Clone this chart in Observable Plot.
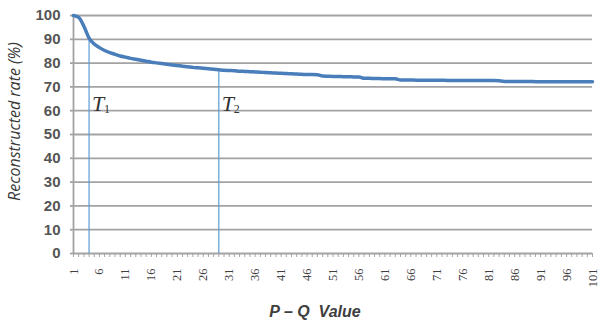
<!DOCTYPE html>
<html>
<head>
<meta charset="utf-8">
<script src="https://cdn.jsdelivr.net/npm/d3@7"></script>
<script src="https://cdn.jsdelivr.net/npm/@observablehq/plot@0.6"></script>
<style>
  html, body { margin: 0; padding: 0; background: #fff; }
  #chart svg { display: block; }
</style>
</head>
<body>
<div id="chart"></div>
<script>
// P - Q values (categories 1..101)
const pq = d3.range(1, 102);
// Reconstructed rate (%)
const rate = [
  100, 99.2, 95.5, 90.5, 88.0, 86.5, 85.3, 84.4, 83.7, 83.0,
  82.5, 82.0, 81.6, 81.2, 80.8, 80.4, 80.1, 79.8, 79.5, 79.2,
  79.0, 78.7, 78.5, 78.2, 78.0, 77.8, 77.6, 77.4, 77.2, 77.0,
  76.9, 76.8, 76.6, 76.5, 76.4, 76.3, 76.2, 76.0, 75.9, 75.8,
  75.7, 75.6, 75.5, 75.4, 75.3, 75.2, 75.2, 75.1, 74.6, 74.5,
  74.4, 74.4, 74.3, 74.3, 74.2, 74.2, 73.6, 73.6, 73.5, 73.5,
  73.4, 73.4, 73.4, 72.9, 72.9, 72.9, 72.8, 72.8, 72.8, 72.8,
  72.8, 72.8, 72.7, 72.7, 72.7, 72.7, 72.7, 72.7, 72.7, 72.7,
  72.7, 72.7, 72.6, 72.3, 72.3, 72.3, 72.3, 72.3, 72.3, 72.2,
  72.2, 72.2, 72.2, 72.2, 72.2, 72.2, 72.2, 72.2, 72.2, 72.2, 72.2
];
// Threshold markers
const tPos = [4, 29];
const tSub = ["1", "2"];
// Tick labels
const xTickLabels = d3.range(1, 102, 5);
const yTicks = d3.range(0, 101, 10);
const xTitle = "P \u2013 Q  Value";
const yTitle = "Reconstructed rate (%)";

const data = pq.map((p, i) => ({p, r: rate[i]}));
const tData = tPos.map((p, i) => ({p, r: rate[p - 1], sub: tSub[i]}));

const gridColor = "#a3a3a3";
const textColor = "#555555";
const serif = "Liberation Serif, Times New Roman, serif";

const chart = Plot.plot({
  width: 600,
  height: 324,
  marginLeft: 73,
  marginRight: 8,
  marginTop: 15,
  marginBottom: 71,
  style: {fontFamily: "Liberation Sans, Arial, sans-serif", background: "#fff"},
  x: {type: "linear", domain: [1, 101]},
  y: {domain: [0, 100]},
  marks: [
    Plot.ruleY(yTicks, {stroke: gridColor, strokeWidth: 1.8}),
    Plot.axisY({ticks: yTicks, tickSize: 3, tickPadding: 10, stroke: gridColor, strokeWidth: 1.8,
      fill: textColor, fontSize: 15, fontWeight: "bold", label: null, tickFormat: d => String(d)}),
    Plot.ruleX([1], {stroke: gridColor, strokeWidth: 1.8}),
    Plot.axisX({ticks: pq, tickSize: 4, tickFormat: () => "", stroke: gridColor, strokeWidth: 1, label: null}),
    Plot.axisX({ticks: xTickLabels, tickSize: 0, tickPadding: 15, tickRotate: -90,
      fill: "#404040", fontSize: 12.5, fontFamily: serif, label: null}),
    Plot.ruleX(tData, {x: "p", y1: 0, y2: "r", stroke: "#5b9bd5", strokeWidth: 1.2}),
    Plot.line(data, {x: "p", y: "r", stroke: "#4a7ebb", strokeWidth: 3.5, curve: "monotone-x"}),
    Plot.text(tData, {x: "p", frameAnchor: "top", dy: 80, dx: 3, text: () => "T", textAnchor: "start",
      fontFamily: serif, fontStyle: "italic", fontSize: 22, fill: "#333"}),
    Plot.text(tData, {x: "p", frameAnchor: "top", dy: 89, dx: 15, text: "sub", textAnchor: "start",
      fontFamily: serif, fontSize: 12, fill: "#333"}),
    Plot.text([xTitle], {frameAnchor: "bottom", lineAnchor: "middle", dx: -18, dy: 58, text: d => d,
      fontSize: 16, fontStyle: "italic", fontWeight: "bold", fill: "#404040", letterSpacing: "0.6px"}),
    Plot.text([yTitle], {frameAnchor: "left", textAnchor: "middle", lineAnchor: "middle", dx: -59, dy: -13,
      rotate: -90, text: d => d, fontSize: 16, fontStyle: "italic", fill: "#383838",
      fontFamily: "Open Sans, sans-serif", letterSpacing: "1.4px"})
  ]
});
document.getElementById("chart").appendChild(chart);
</script>
</body>
</html>
